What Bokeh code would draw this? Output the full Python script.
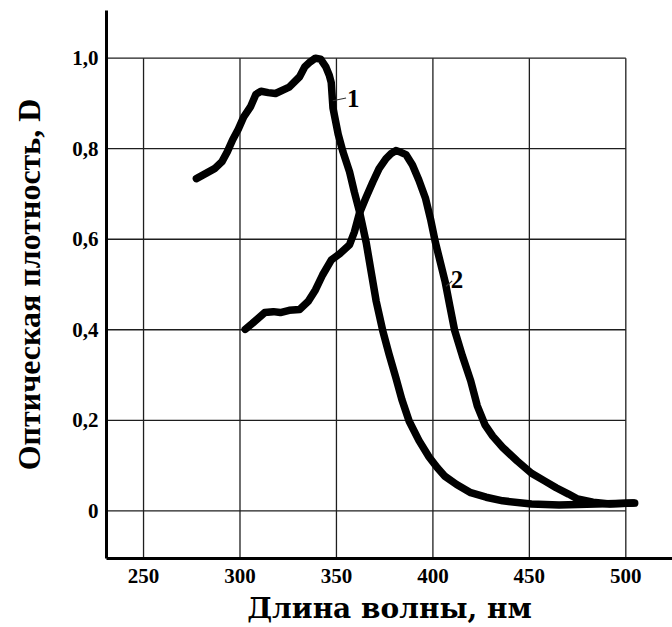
from bokeh.plotting import figure
from bokeh.models import Range1d, FixedTicker, Label
from bokeh.embed import file_html
from bokeh.resources import INLINE

# ---- data ----
# curve 1
wl1 = [277.4, 282.1, 286.8, 290.6, 293.4, 296.2, 299.1, 301.9, 305.5, 308.2,
       310.9, 314.6, 318.4, 325.5, 330.9, 333.6, 336.4, 339.1, 341.8, 344.5,
       346.3, 347.3, 348.2, 350.9, 353.4, 356.8, 359.3, 362.0, 365.4, 368.0,
       370.6, 374.0, 377.2, 380.8, 383.9, 387.7, 392.8, 398.0, 402.3, 406.3,
       412.3, 419.6, 427.6, 436.2, 451.1, 465.4, 484.6, 504.6]
d1 = [0.734, 0.745, 0.756, 0.771, 0.793, 0.820, 0.843, 0.870, 0.893, 0.920,
      0.927, 0.924, 0.922, 0.936, 0.959, 0.981, 0.992, 1.000, 0.998, 0.981,
      0.962, 0.946, 0.890, 0.832, 0.793, 0.749, 0.704, 0.660, 0.593, 0.528,
      0.463, 0.398, 0.347, 0.294, 0.246, 0.198, 0.155, 0.119, 0.095, 0.076,
      0.058, 0.040, 0.030, 0.022, 0.015, 0.013, 0.015, 0.017]
# curve 2
wl2 = [302.7, 306.4, 312.8, 317.3, 320.9, 325.5, 330.9, 335.4, 339.1, 342.8,
       347.3, 351.7, 356.8, 359.3, 361.8, 365.4, 368.9, 372.1, 375.7, 378.3,
       380.8, 383.4, 386.0, 389.4, 392.7, 396.2, 398.8, 401.3, 403.8, 406.3,
       408.8, 411.3, 415.3, 419.6, 423.0, 427.0, 431.0, 436.2, 443.7, 451.1,
       458.3, 463.9, 470.3, 475.0, 483.0, 491.8, 503.7]
d2 = [0.401, 0.414, 0.438, 0.440, 0.438, 0.443, 0.445, 0.463, 0.488, 0.521,
      0.554, 0.568, 0.588, 0.616, 0.656, 0.693, 0.727, 0.756, 0.778, 0.789,
      0.796, 0.792, 0.787, 0.764, 0.731, 0.690, 0.644, 0.593, 0.550, 0.507,
      0.452, 0.398, 0.342, 0.287, 0.232, 0.190, 0.165, 0.140, 0.110, 0.083,
      0.065, 0.051, 0.037, 0.026, 0.019, 0.015, 0.017]

x_ticks = [250, 300, 350, 400, 450, 500]
x_tick_labels = ["250", "300", "350", "400", "450", "500"]
y_ticks = [0, 0.2, 0.4, 0.6, 0.8, 1.0]
y_tick_labels = ["0", "0,2", "0,4", "0,6", "0,8", "1,0"]
x_title = "Длина волны, нм"
y_title = "Оптическая плотность, D"

curve_names = ["1", "2"]
# leader-line start (on curve) and end, and label anchor, in data units
lead_x0 = [348.1, 406.8]
lead_y0 = [0.906, 0.496]
lead_x1 = [355.0, 410.0]
lead_y1 = [0.912, 0.508]
name_x = [355.5, 409.3]
name_y = [0.912, 0.512]

XMIN, XMAX = 230.8, 524.2
YMIN, YMAX = -0.1054, 1.1054

p = figure(width=672, height=627, output_backend="svg", toolbar_location=None,
           x_range=Range1d(XMIN, XMAX), y_range=Range1d(YMIN, YMAX),
           min_border_left=106, min_border_right=0, min_border_top=10,
           min_border_bottom=69)
p.outline_line_color = None
p.xgrid.grid_line_color = None
p.ygrid.grid_line_color = None
p.background_fill_color = "white"
p.border_fill_color = "white"

# grid limited to the tick span
n = len(x_ticks)
m = len(y_ticks)
p.segment(x0=x_ticks, y0=[YMIN] * n, x1=x_ticks, y1=[y_ticks[-1]] * n,
          line_color="#1e1e1e", line_width=1.3)
p.segment(x0=[XMIN] * m, y0=y_ticks, x1=[x_ticks[-1]] * m, y1=y_ticks,
          line_color="#1e1e1e", line_width=1.3)

# curves
for xs, ys in ((wl1, d1), (wl2, d2)):
    p.line(xs, ys, line_color="black", line_width=7.5,
           line_cap="round", line_join="round")

# leader lines + curve numbers
p.segment(x0=lead_x0, y0=lead_y0, x1=lead_x1, y1=lead_y1,
          line_color="#333333", line_width=1.2)
for nm, lx, ly in zip(curve_names, name_x, name_y):
    p.add_layout(Label(x=lx, y=ly, text=nm, text_align="left",
                       text_baseline="middle", text_font="Liberation Serif",
                       text_font_style="bold", text_font_size="25px",
                       text_color="black"))

# axes
p.xaxis.ticker = FixedTicker(ticks=x_ticks)
p.yaxis.ticker = FixedTicker(ticks=y_ticks)
p.xaxis.major_label_overrides = {t: s for t, s in zip(x_ticks, x_tick_labels)}
p.yaxis.major_label_overrides = {t: s for t, s in zip(y_ticks, y_tick_labels)}
for ax in (p.xaxis, p.yaxis):
    ax.axis_line_width = 3
    ax.axis_line_color = "black"
    ax.major_tick_out = 0
    ax.major_tick_in = 0
    ax.minor_tick_out = 0
    ax.minor_tick_in = 0
    ax.major_label_text_font = "Liberation Serif"
    ax.major_label_text_font_style = "bold"
    ax.major_label_text_font_size = "21px"
    ax.major_label_text_color = "black"
    ax.axis_label_text_color = "black"
    ax.axis_label_text_font_style = "bold"

p.xaxis.major_label_standoff = 10
p.yaxis.major_label_standoff = 8

p.xaxis.axis_label = x_title
p.xaxis.axis_label_text_font = "DejaVu Serif"
p.xaxis.axis_label_text_font_size = "28px"
p.xaxis.axis_label_standoff = 6

p.yaxis.axis_label = y_title
p.yaxis.axis_label_text_font = "Liberation Serif"
p.yaxis.axis_label_text_font_size = "32px"
p.yaxis.axis_label_standoff = 22

open("out.html", "w", encoding="utf-8").write(file_html(p, INLINE))
